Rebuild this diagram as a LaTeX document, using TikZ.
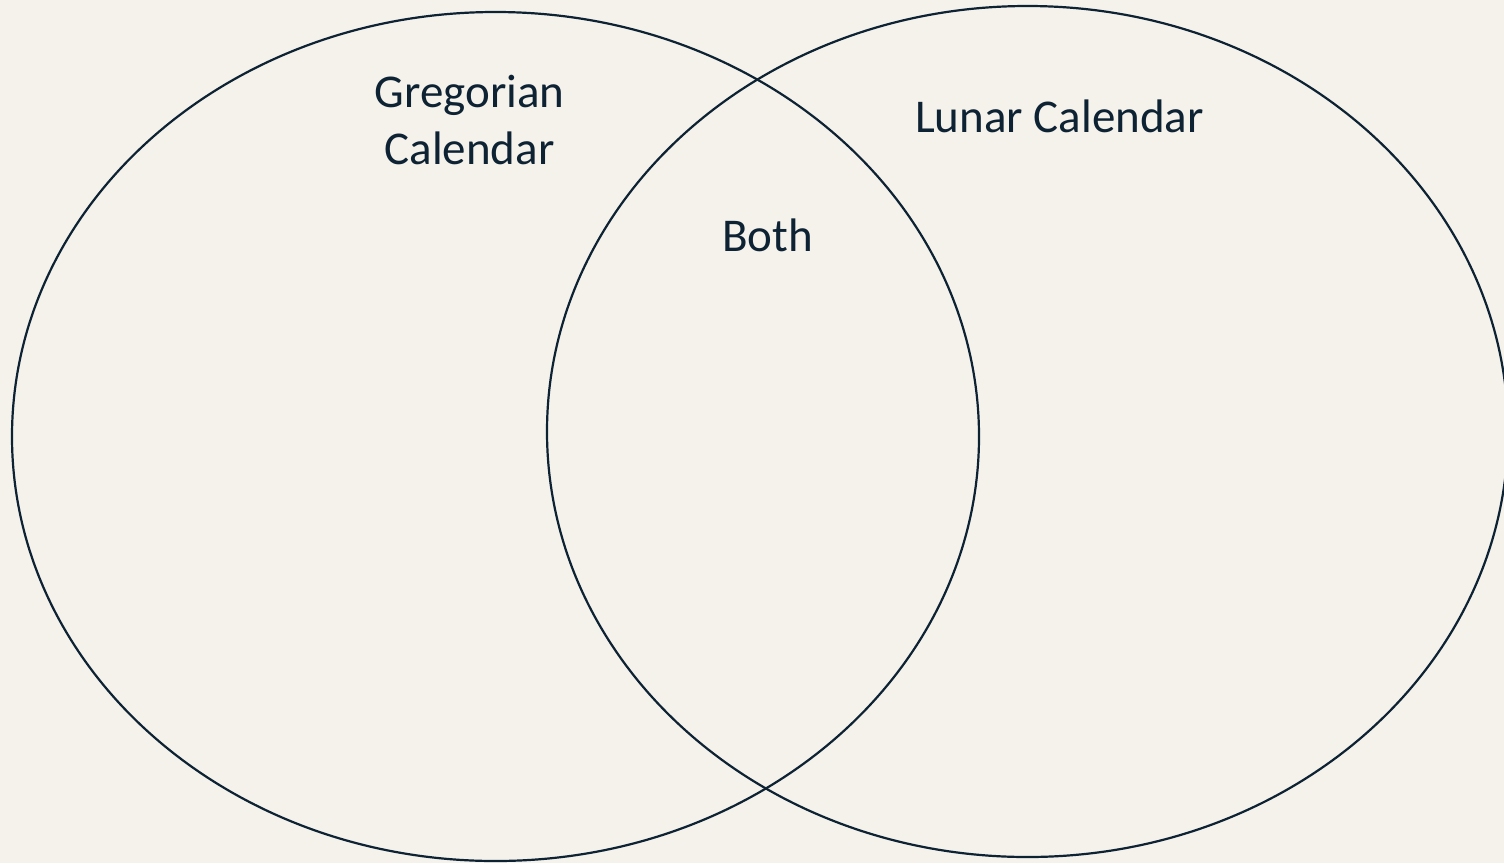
\documentclass[tikz,border=0pt]{standalone}
\usepackage{fontspec}
\setmainfont{Carlito}
\usetikzlibrary{shapes.geometric}
\definecolor{bgc}{HTML}{F5F1EB}
\definecolor{ink}{HTML}{0D2233}
\begin{document}
\begin{tikzpicture}[x=1pt,y=-1pt,
  setring/.style={draw=ink,line width=2.2pt},
  lbl/.style={text=ink,inner sep=0pt,font=\fontsize{47}{57}\selectfont,align=center}]
\fill[bgc] (0,0) rectangle (1504,863);
\useasboundingbox (0,0) rectangle (1504,863);
\node[setring,ellipse,minimum width=967pt,minimum height=849pt,inner sep=0pt] (gset) at (495.5,436.5) {};
\node[setring,ellipse,minimum width=961pt,minimum height=851pt,inner sep=0pt] (lset) at (1027.5,431.5) {};
\node[lbl,anchor=base] (greg) at (469.5,164.5) {Gregorian\\Calendar};
\node[lbl,anchor=base] (lunar) at (1059.5,132.7) {Lunar Calendar};
\node[lbl,anchor=base] (both) at (767.5,251) {Both};
\end{tikzpicture}
\end{document}
